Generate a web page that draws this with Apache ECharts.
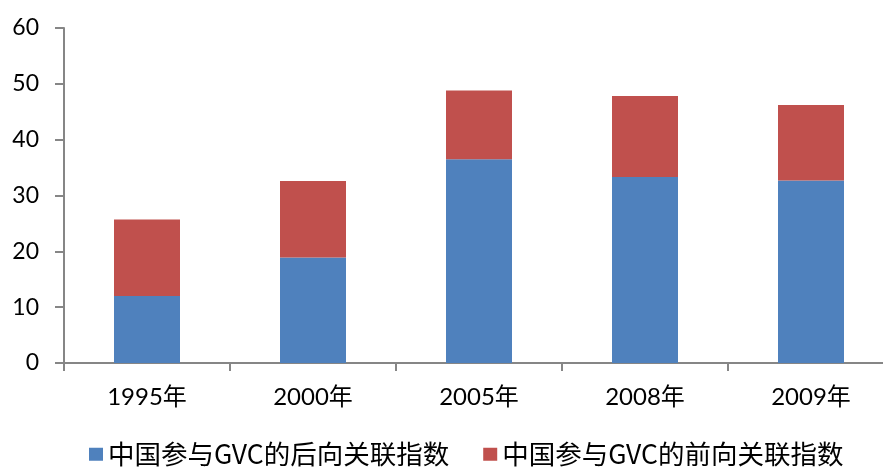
<!DOCTYPE html>
<html>
<head>
<meta charset="utf-8">
<script src="https://cdn.jsdelivr.net/npm/echarts@6/dist/echarts.min.js"></script>
<style>
html,body{margin:0;padding:0;background:#fff;overflow:hidden;}
#chart{width:894px;height:467px;}
</style>
</head>
<body>
<div id="chart"></div>
<script>
var categories = ['1995年', '2000年', '2005年', '2008年', '2009年'];
var backwardName = '中国参与GVC的后向关联指数';
var forwardName = '中国参与GVC的前向关联指数';
var backward = [12.0, 18.9, 36.5, 33.3, 32.7];
var forward = [13.7, 13.7, 12.3, 14.5, 13.5];
var yTicks = [0, 10, 20, 30, 40, 50, 60];

var chart = echarts.init(document.getElementById('chart'), null, {renderer: 'canvas'});
var axisGray = '#868686';
chart.setOption({
  animation: false,
  backgroundColor: '#ffffff',
  grid: {left: 64, right: 0, top: 28, bottom: 104, containLabel: false},
  legend: {
    data: [backwardName, forwardName],
    left: 84, top: 436,
    itemWidth: 14, itemHeight: 13, itemGap: 34,
    icon: 'rect',
    textStyle: {fontFamily: '"Noto Sans CJK SC", sans-serif', fontSize: 26.5, color: '#000'}
  },
  xAxis: {
    type: 'category',
    data: categories,
    axisLine: {lineStyle: {color: axisGray, width: 2}},
    axisTick: {show: true, length: 8, lineStyle: {color: axisGray, width: 2}},
    axisLabel: {margin: 22, fontSize: 24, color: '#000', fontFamily: 'Lato, "Noto Sans CJK SC", sans-serif'}
  },
  yAxis: {
    type: 'value',
    min: yTicks[0], max: yTicks[yTicks.length - 1], interval: 10,
    splitLine: {show: false},
    axisLine: {show: true, lineStyle: {color: axisGray, width: 2}},
    axisTick: {show: true, length: 9, lineStyle: {color: axisGray, width: 2}},
    axisLabel: {margin: 25, fontSize: 23, color: '#000', fontFamily: 'Lato, sans-serif'}
  },
  series: [
    {name: backwardName, type: 'bar', stack: 'total', data: backward, barWidth: 66,
     itemStyle: {color: '#4F81BD'}},
    {name: forwardName, type: 'bar', stack: 'total', data: forward, barWidth: 66,
     itemStyle: {color: '#C0504D'}}
  ]
});
</script>
</body>
</html>
